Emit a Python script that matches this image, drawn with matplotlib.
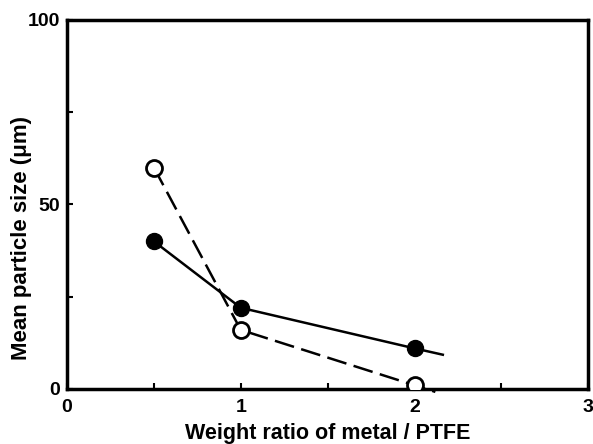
import matplotlib
matplotlib.use('Agg')
import matplotlib.pyplot as plt

# --- data ---
ratio = [0.5, 1.0, 2.0]
size_filled = [40, 22, 11]
size_open = [60, 16, 1]
# short line tails drawn past the last point
tail_filled = (2.17, 9.2)
tail_open = (2.12, -0.8)

plt.rcParams['font.family'] = ['Liberation Sans', 'DejaVu Sans']
plt.rcParams['font.weight'] = 'bold'

fig = plt.figure(figsize=(5.93, 4.44), dpi=100)
ax = fig.add_axes([0.113, 0.124, 0.879, 0.831])

# solid line + filled circles
ax.plot(ratio + [tail_filled[0]], size_filled + [tail_filled[1]],
        color='black', lw=1.8, solid_capstyle='butt', zorder=2)
ax.plot(ratio, size_filled, 'o', ms=11.5, mfc='black', mec='black', zorder=3)

# dashed line + open circles
ax.plot(ratio + [tail_open[0]], size_open + [tail_open[1]],
        color='black', lw=1.8, dashes=(8, 3), zorder=2, clip_on=False)
ax.plot(ratio, size_open, 'o', ms=11.5, mfc='white', mec='black', mew=2, zorder=3)

ax.set_xlim(0, 3)
ax.set_ylim(0, 100)
ax.set_xticks([0, 1, 2, 3])
ax.set_yticks([0, 50, 100])
ax.set_xticks([0.5, 1.5, 2.5], minor=True)
ax.set_yticks([25, 75], minor=True)
ax.tick_params(which='both', direction='in', width=1.5)
ax.tick_params(which='major', length=4, labelsize=14, pad=5)
ax.tick_params(axis='x', which='major', pad=7)
ax.tick_params(which='minor', length=4)
for lab in ax.get_xticklabels() + ax.get_yticklabels():
    lab.set_fontweight('bold')

for s in ax.spines.values():
    s.set_linewidth(2.5)

ax.set_xlabel('Weight ratio of metal / PTFE', fontsize=15.5, fontweight='bold', labelpad=5)
ax.set_ylabel('Mean particle size (\u03bcm)', fontsize=16, fontweight='bold')
ax.yaxis.set_label_coords(-0.068, 0.41)

fig.savefig('out.png', dpi=100, facecolor='white')
